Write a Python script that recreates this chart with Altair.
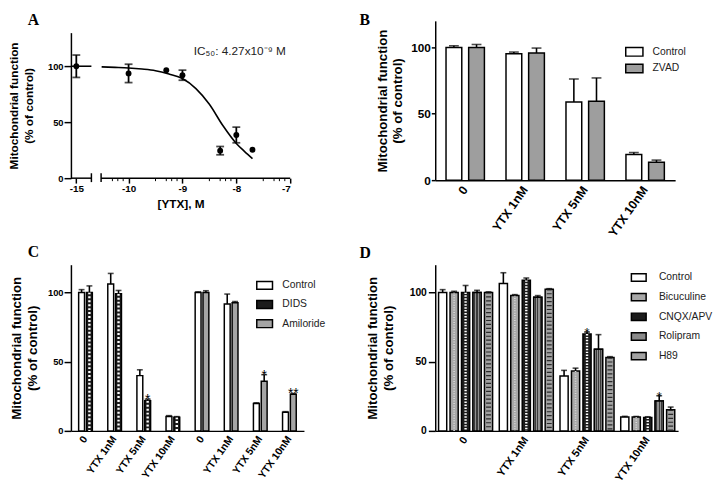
import altair as alt
import pandas as pd

FONT = "Liberation Sans"
SERIF = "Liberation Serif"
YTITLE = ["Mitochondrial function", "(% of control)"]

# ---------------- Panel A data ----------------
A_x = [-15, -10, -9.3, -9, -8.3, -8, -7.7]
A_y = [100, 93.6, 96.5, 92, 24.6, 38.6, 25.4]
A_err = [10, 8.2, 0, 4.5, 3.7, 7, 0]
A_curve_x = [-10.5, -10.25, -10, -9.75, -9.5, -9.25, -9, -8.75, -8.5, -8.25, -8, -7.85, -7.7]
A_curve_y = [99.4, 99, 98.5, 97.5, 96, 93, 89, 80, 66, 47, 31, 24, 17.5]
A_curve1_x = [-15.1, -14.72]
A_curve1_y = [100, 100]
A_tick_values = [-15, -10, -9, -8, -7]
A_minor = [-10.3, -10.2, -10.1, -9.5, -9.3, -9.2, -9.1, -8.5, -8.3, -8.2, -8.1, -7.5, -7.3, -7.2, -7.1]
A_seg_start = [-15.1, -10.51]
A_seg_end = [-14.72, -7]
A_breaks = [-14.72, -10.51]
A_note = "IC\u2085\u2080: 4.27x10\u207b\u2079 M"

# ---------------- Panel B data ----------------
B_groups = ["0", "YTX 1nM", "YTX 5nM", "YTX 10nM"]
B_series = ["Control", "ZVAD"]
B_control = [100, 95.3, 58.9, 19.3]
B_control_err = [1.2, 1.2, 17.3, 1.5]
B_zvad = [100, 95.8, 59.4, 13.4]
B_zvad_err = [2.2, 3.7, 17.6, 1.7]

# ---------------- Panel C data ----------------
C_groups = ["0", "YTX 1nM", "YTX 5nM", "YTX 10nM"]
C_series = ["Control", "DIDS", "Amiloride"]
C_ctrl1 = [100, 106, 39.9, 10.4]
C_ctrl1_err = [2, 7.7, 4.2, 0.6]
C_dids = [100, 99, 21.7, 9.9]
C_dids_err = [4.7, 2.4, 1.2, 0.4]
C_dids_star = ["", "", "*", ""]
C_ctrl2 = [100, 91.7, 19.8, 13.4]
C_ctrl2_err = [0.4, 7.1, 0.5, 0.5]
C_amil = [100, 92.5, 35.8, 26.4]
C_amil_err = [1.2, 0.9, 4.8, 0.6]
C_amil_star = ["", "", "*", "**"]

# ---------------- Panel D data ----------------
D_groups = ["0", "YTX 1nM", "YTX 5nM", "YTX 10nM"]
D_series = ["Control", "Bicuculine", "CNQX/APV", "Rolipram", "H89"]
D_values = {
    "Control": [100, 106.5, 39.7, 10],
    "Bicuculine": [100, 97.8, 43.3, 10],
    "CNQX/APV": [100, 108.7, 70, 9.6],
    "Rolipram": [100, 96.5, 59, 21.6],
    "H89": [100, 102.3, 53, 15.2],
}
D_errs = {
    "Control": [2, 7.7, 4, 0.5],
    "Bicuculine": [0.8, 0.6, 2, 0.4],
    "CNQX/APV": [5, 1.7, 1.4, 0.6],
    "Rolipram": [1.5, 1.2, 10.5, 3.8],
    "H89": [0.4, 0.4, 0.6, 2],
}
D_stars = {
    "CNQX/APV": ["", "", "*", ""],
    "Rolipram": ["", "", "", "*"],
}

XLABEL_ANGLE = -55


def yaxis(label_size, title_size, line_h, tick, lab_pad, title_pad):
    return alt.Axis(values=[0, 50, 100], title=YTITLE, titleFont=FONT, titleFontSize=title_size,
                    titleFontWeight="bold", titleColor="black", titleLineHeight=line_h,
                    titlePadding=title_pad, labelFont=FONT, labelFontSize=label_size,
                    labelFontWeight="bold", labelColor="black", labelPadding=lab_pad,
                    tickSize=tick, tickColor="black", tickWidth=1.5, domainColor="black",
                    domainWidth=1.5, grid=False)


def letter_layer(ch, x, y):
    return alt.Chart(pd.DataFrame({"t": [ch]})).mark_text(
        align="left", baseline="alphabetic", font=SERIF, fontSize=16, fontWeight="bold",
        color="black").encode(text="t:N", x=alt.value(x), y=alt.value(y))


# ================= Panel A =================
xcalc = "datum.x < -12 ? datum.x + 4.03 : datum.x"
xsA = alt.Scale(domain=[-11.07, -7], nice=False, zero=False)
ysA = alt.Scale(domain=[0, 130], range=[160, 12], nice=False)
tick_disp = [v + 4.03 if v < -12 else v for v in A_tick_values]
axA_x = alt.Axis(values=tick_disp,
                 labelExpr="datum.value < -10.5 ? '-15' : '' + datum.value",
                 domain=False, tickSize=5, tickColor="black", tickWidth=1.5,
                 labelFont=FONT, labelFontSize=10, labelFontWeight="bold", labelColor="black",
                 labelPadding=1, title="[YTX], M", titleFont=FONT, titleFontSize=12,
                 titleFontWeight="bold", titleColor="black", titlePadding=5, grid=False)
ayA = yaxis(9.5, 12, 15, 7, 1, 12)

dfA = pd.DataFrame({"x": A_x, "y": A_y, "err": A_err})
dfCurve = pd.DataFrame({"x": A_curve_x, "y": A_curve_y})
dfCurve1 = pd.DataFrame({"x": A_curve1_x, "y": A_curve1_y})


def XA(f="xd"):
    return alt.X(f"{f}:Q", scale=xsA, axis=axA_x)


def YA(f="y"):
    return alt.Y(f"{f}:Q", scale=ysA, axis=ayA)


curve2 = alt.Chart(dfCurve).transform_calculate(xd=xcalc).mark_line(
    color="black", strokeWidth=1.6, interpolate="monotone").encode(x=XA(), y=YA())
curve1 = alt.Chart(dfCurve1).transform_calculate(xd=xcalc).mark_line(
    color="black", strokeWidth=1.6).encode(x=XA(), y=YA())
errA = alt.Chart(dfA).transform_filter("datum.err > 0").transform_calculate(
    xd=xcalc, lo="datum.y - datum.err", hi="datum.y + datum.err").mark_rule(
    color="black", strokeWidth=1.8).encode(x=XA(), y=YA("lo"), y2="hi:Q")
capLo = alt.Chart(dfA).transform_filter("datum.err > 0").transform_calculate(
    xd=xcalc, lo="datum.y - datum.err").mark_tick(
    color="black", thickness=1.8, size=8, orient="horizontal").encode(x=XA(), y=YA("lo"))
capHi = alt.Chart(dfA).transform_filter("datum.err > 0").transform_calculate(
    xd=xcalc, hi="datum.y + datum.err").mark_tick(
    color="black", thickness=1.8, size=8, orient="horizontal").encode(x=XA(), y=YA("hi"))
ptsA = alt.Chart(dfA).transform_calculate(xd=xcalc).mark_circle(
    color="black", size=36, opacity=1).encode(x=XA(), y=YA())
segA = alt.Chart(pd.DataFrame({"s": A_seg_start, "e": A_seg_end})).transform_calculate(
    sd="datum.s < -12 ? datum.s + 4.03 : datum.s",
    ed="datum.e < -12 ? datum.e + 4.03 : datum.e").mark_rule(
    color="black", strokeWidth=1.5).encode(x=XA("sd"), x2="ed:Q", y=alt.value(160))
brkA = alt.Chart(pd.DataFrame({"x": A_breaks})).transform_calculate(xd=xcalc).mark_rule(
    color="black", strokeWidth=1.5).encode(x=XA(), y=alt.value(155), y2=alt.value(164))
minA = alt.Chart(pd.DataFrame({"x": A_minor})).transform_calculate(xd=xcalc).mark_rule(
    color="black", strokeWidth=1).encode(x=XA(), y=alt.value(160), y2=alt.value(163))
noteA = alt.Chart(pd.DataFrame({"x": [-8.79], "y": [110], "t": [A_note]})).transform_calculate(
    xd=xcalc).mark_text(align="left", baseline="alphabetic", font=FONT, fontSize=12,
                        color="#222").encode(x=XA(), y=YA(), text="t:N")

panelA = alt.layer(segA, minA, brkA, curve1, curve2, errA, capLo, capHi, ptsA, noteA,
                   letter_layer("A", -44, 4)).properties(width=223, height=160)


# ================= Bar panels =================
def rule_overlay(name, color, width, dash):
    def f(df, X, XO, Y):
        return alt.Chart(df).transform_filter(f"datum.series == '{name}'").transform_calculate(
            zero="0").mark_rule(color=color, strokeWidth=width, strokeDash=dash).encode(
            x=X, xOffset=XO, y=Y, y2="zero:Q")
    return f


def grad_overlay(name, grad):
    def f(df, X, XO, Y):
        return alt.Chart(df).transform_filter(f"datum.series == '{name}'").mark_bar(
            fill=grad, stroke="black", strokeWidth=1.5).encode(x=X, xOffset=XO, y=Y)
    return f


def bar_panel(df, group_domain, slot_domain, series_domain, colors, width, height, pad_in,
              off_pad, cap, xlab_size, xlab_pad, ay, legend, overlays, star_size, star_dy,
              letter, lxy, label_expr=None):
    axkw = dict(title=None, labelAngle=XLABEL_ANGLE, labelAlign="right", labelBaseline="middle",
                ticks=False, domainColor="black", domainWidth=1.5, labelFont=FONT,
                labelFontSize=xlab_size, labelFontWeight="bold", labelColor="black",
                labelPadding=xlab_pad, labelOverlap=False, labelBound=False)
    if label_expr:
        axkw["labelExpr"] = label_expr
    X = alt.X("group:N", scale=alt.Scale(domain=group_domain, paddingInner=pad_in,
                                         paddingOuter=pad_in / 2), axis=alt.Axis(**axkw))
    XO = alt.XOffset("slot:N", scale=alt.Scale(domain=slot_domain, paddingInner=off_pad,
                                               paddingOuter=0))
    ysc = alt.Scale(domain=[0, 120], nice=False)
    Y = alt.Y("value:Q", scale=ysc, axis=ay)
    YT = alt.Y("top:Q", scale=ysc, axis=ay)
    base = alt.Chart(df).mark_bar(stroke="black", strokeWidth=1.5).encode(
        x=X, xOffset=XO, y=Y,
        fill=alt.Fill("series:N", scale=alt.Scale(domain=series_domain, range=colors),
                      legend=legend))
    layers = [base] + [ov(df, X, XO, Y) for ov in overlays]
    err = alt.Chart(df).transform_filter("datum.err > 0").mark_rule(
        color="black", strokeWidth=1.6).encode(x=X, xOffset=XO, y=Y, y2="top:Q")
    caps = alt.Chart(df).transform_filter("datum.err > 0").mark_tick(
        color="black", thickness=1.6, size=cap, orient="horizontal").encode(
        x=X, xOffset=XO, y=YT)
    stars = alt.Chart(df).transform_filter("datum.star != ''").mark_text(
        font=FONT, fontSize=star_size, baseline="alphabetic", dy=star_dy,
        color="black").encode(x=X, xOffset=XO, y=YT, text="star:N")
    layers += [err, caps, stars, letter_layer(letter, lxy[0], lxy[1])]
    return alt.layer(*layers).properties(width=width, height=height)


def legend(x, y, size, rowpad, offset):
    return alt.Legend(title=None, orient="none", legendX=x, legendY=y,
                      symbolType="M-1,-0.5H1V0.5H-1Z", symbolSize=size,
                      symbolStrokeColor="black", symbolStrokeWidth=1.5, symbolOpacity=1,
                      labelFont=FONT, labelFontSize=10.5, labelColor="#222",
                      labelOffset=offset, rowPadding=rowpad, padding=0)


# ---- B ----
rowsB = []
for i, g in enumerate(B_groups):
    rowsB.append(dict(group=g, slot="Control", series="Control", value=B_control[i],
                      err=B_control_err[i], star=""))
    rowsB.append(dict(group=g, slot="ZVAD", series="ZVAD", value=B_zvad[i],
                      err=B_zvad_err[i], star=""))
dfB = pd.DataFrame(rowsB)
dfB["top"] = dfB["value"] + dfB["err"]
panelB = bar_panel(dfB, B_groups, B_series, B_series, ["white", "#9e9e9e"], 244, 162,
                   0.36, 0.304, 10, 12.5, 7, yaxis(12, 13.5, 16, 4, 1, 6),
                   legend(193, 22, 306, 0, 9), [], 13, 5, "B", (-77, 4))

# ---- C ----
rowsC = []
for i, g in enumerate(C_groups):
    rowsC.append(dict(group=g + "|1", slot="a", series="Control", value=C_ctrl1[i],
                      err=C_ctrl1_err[i], star=""))
    rowsC.append(dict(group=g + "|1", slot="b", series="DIDS", value=C_dids[i],
                      err=C_dids_err[i], star=C_dids_star[i]))
for i, g in enumerate(C_groups):
    rowsC.append(dict(group=g + "|2", slot="a", series="Control", value=C_ctrl2[i],
                      err=C_ctrl2_err[i], star=""))
    rowsC.append(dict(group=g + "|2", slot="b", series="Amiloride", value=C_amil[i],
                      err=C_amil_err[i], star=C_amil_star[i]))
dfC = pd.DataFrame(rowsC)
dfC["top"] = dfC["value"] + dfC["err"]
C_domain = [g + "|1" for g in C_groups] + [g + "|2" for g in C_groups]
panelC = bar_panel(dfC, C_domain, ["a", "b"], C_series, ["white", "#1c1c1c", "#a5a5a5"],
                   237, 169, 0.53, 0.25, 6, 10.5, 6, yaxis(9.5, 13.5, 16, 7, 1, 8),
                   legend(188, 12, 256, 3.5, 9),
                   [rule_overlay("DIDS", "white", 2.4, [2, 2])], 14, 5, "C", (-44, -8),
                   label_expr="split(datum.label, '|')[0]")

# ---- D ----
rowsD = []
for i, g in enumerate(D_groups):
    for s in D_series:
        rowsD.append(dict(group=g, slot=s, series=s, value=D_values[s][i], err=D_errs[s][i],
                          star=D_stars.get(s, ["", "", "", ""])[i]))
dfD = pd.DataFrame(rowsD)
dfD["top"] = dfD["value"] + dfD["err"]
rol_stops = []
for a, b in [(0.0, 0.14), (0.27, 0.43), (0.56, 0.72), (0.85, 1.0)]:
    rol_stops += [alt.GradientStop(color="#909090", offset=a),
                  alt.GradientStop(color="#909090", offset=b),
                  alt.GradientStop(color="#3a3a3a", offset=b),
                  alt.GradientStop(color="#3a3a3a", offset=min(b + 0.13, 1.0))]
rol_grad = alt.LinearGradient(gradient="linear", stops=rol_stops, x1=0, x2=1, y1=0, y2=0)
panelD = bar_panel(dfD, D_groups, D_series, D_series,
                   ["white", "#a8a8a8", "#1c1c1c", "#8a8a8a", "#a2a2a2"],
                   247, 169, 0.11, 0.289, 6, 11, 7, yaxis(10.5, 13.5, 16, 7, 2, 14),
                   legend(198.5, 4.5, 225, 4, 12),
                   [rule_overlay("Bicuculine", "#dadada", 1.6, [1, 1.5]),
                    rule_overlay("CNQX/APV", "white", 2.4, [1.5, 1.5]),
                    grad_overlay("Rolipram", rol_grad),
                    rule_overlay("H89", "#2a2a2a", 5, [1.2, 2.8])],
                   13, 5, "D", (-77, -7))

chart = alt.concat(panelA, panelB, panelC, panelD, columns=2,
                   spacing={"row": 86, "column": 133.5}).properties(
    bounds="flush", align="each", center=False, padding=0
).resolve_scale(fill="independent", xOffset="independent").resolve_legend(
    fill="independent"
).configure(font=FONT, background="white").configure_view(stroke=None)

chart.save("out.html", embed_options={"renderer": "svg", "actions": False})
